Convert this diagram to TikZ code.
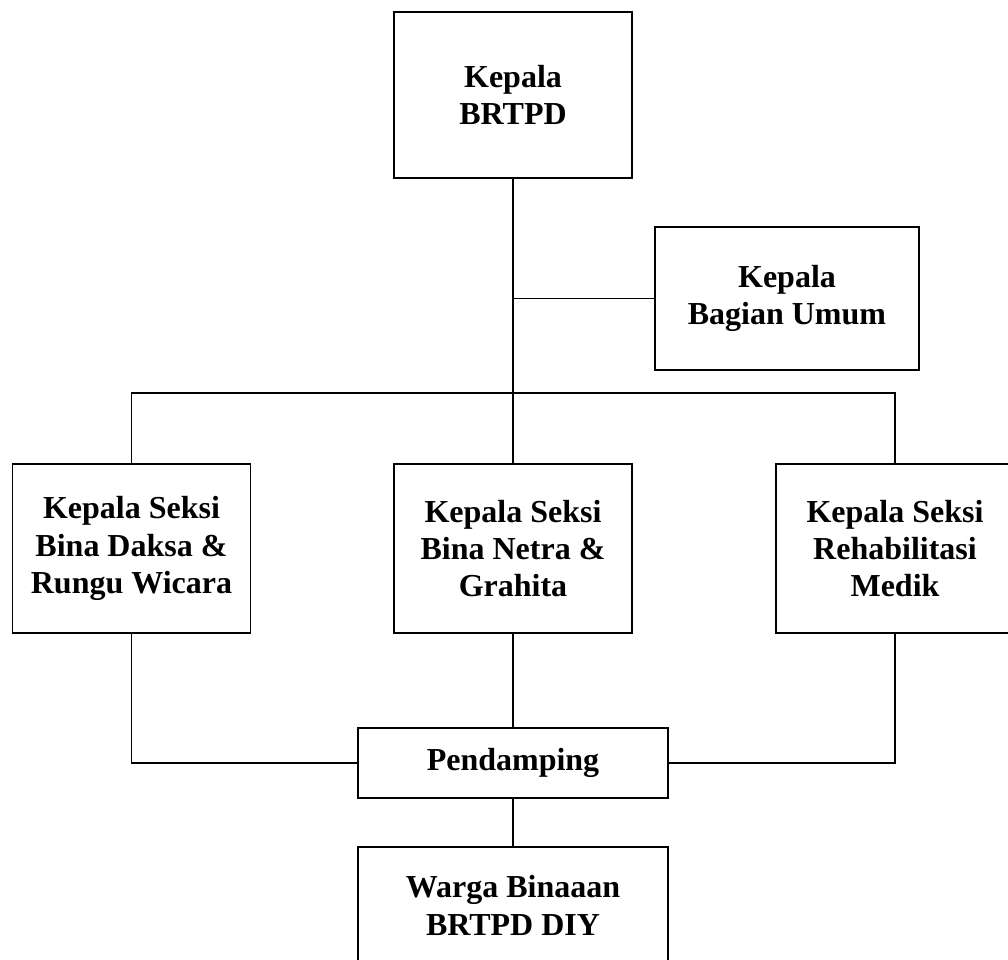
\documentclass[tikz,border=0pt]{standalone}
\usepackage{fontspec}
\setmainfont{Liberation Serif}
\begin{document}
\begin{tikzpicture}[
	x=0.75pt,
	y=-0.75pt,
	line width=1.3pt,
	line cap=rect,
	line join=miter,
	unit/.style={draw,align=center,inner sep=0pt,font=\fontsize{24}{28}\selectfont\bfseries},
	wide/.style={unit,minimum width=178.5pt,minimum height=126.75pt}
	]
	\useasboundingbox (0,0) rectangle (1008,960);
	\clip (0,0) rectangle (1008,960);
	% pimpinan
	\node[unit,minimum width=178.5pt,minimum height=124.5pt] (kepala) at (513,95) {Kepala\\BRTPD};
	\node[unit,minimum width=198pt,minimum height=107.25pt] (umum) at (787,298.5) {Kepala\\Bagian Umum};
	% seksi
	\node[wide] (seksiA) at (131.5,548.5) {Kepala Seksi\\Bina Daksa \&\\Rungu Wicara};
	\node[wide] (seksiB) at (513,548.5) {Kepala Seksi\\Bina Netra \&\\Grahita};
	\node[wide] (seksiC) at (895,548.5) {Kepala Seksi\\Rehabilitasi\\Medik};
	% bawah
	\node[unit,minimum width=232.5pt,minimum height=52.5pt] (pendamping) at (513,763) {Pendamping};
	\node[unit,minimum width=232.5pt,minimum height=87.75pt] (warga) at (513,905.5) {Warga Binaaan\\BRTPD DIY};
	\coordinate (bar) at (513,393);
	\draw (kepala.south) -- (seksiB.north);
	\draw (umum.west) -- (umum.west -| kepala.south);
	\draw (seksiA.north |- bar) -- (seksiC.north |- bar);
	\draw (seksiA.north) -- (seksiA.north |- bar);
	\draw (seksiC.north) -- (seksiC.north |- bar);
	\draw (seksiA.south) |- (pendamping.west);
	\draw (seksiC.south) |- (pendamping.east);
	\draw (seksiB.south) -- (pendamping.north);
	\draw (pendamping.south) -- (warga.north);
\end{tikzpicture}
\end{document}
